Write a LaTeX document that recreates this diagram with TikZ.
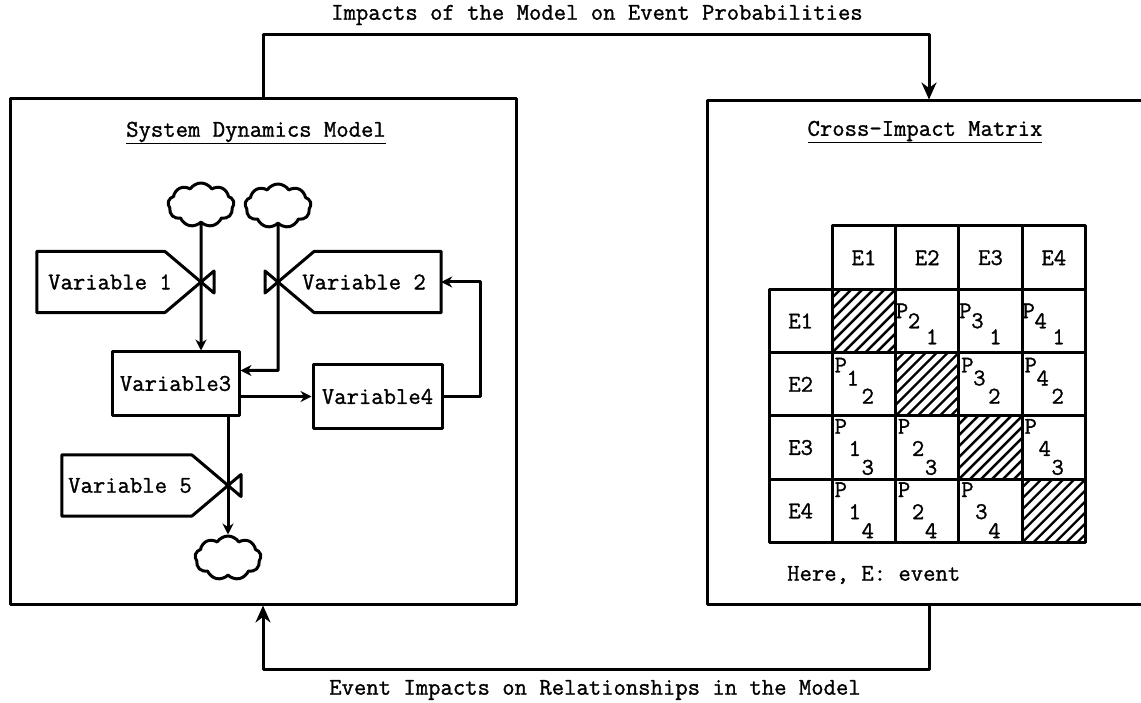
\documentclass[tikz,border=0pt]{standalone}
\usepackage{fontspec}
\setmonofont{Latin Modern Mono}[FakeBold=1.2]
\usetikzlibrary{arrows.meta,calc,shapes.symbols}

\tikzset{
  txt/.style={font=\ttfamily\fontsize{24}{28}\selectfont, inner sep=0pt},
  panel/.style={draw, line width=3pt, inner sep=0pt},
  level/.style={txt, draw, line width=3pt, minimum height=63pt},
  cloudy/.style={cloud, cloud puffs=9, cloud puff arc=115, aspect=1.5, draw, line width=3pt,
    minimum width=66pt, minimum height=44pt, inner sep=0pt},
  flow/.style={line width=3pt},
  cell/.style={txt, draw, line width=3pt, minimum size=63.3pt},
  hatch/.style={line width=2.4pt},
  bigtip/.style={-{Stealth[length=17pt,width=15pt]}}
}

\begin{document}
\begin{tikzpicture}[x=1pt,y=-1pt,line cap=round,line join=round,
    >={Stealth[length=11pt,width=11pt]}]
  \useasboundingbox (0,0) rectangle (1141,703);
  \def\cs{63.3}

  % the two panels and the loop between them
  \node[panel, minimum width=506pt, minimum height=505pt] (sdm) at (263,351.5) {};
  \node[panel, minimum width=444pt, minimum height=503pt] (cim) at (929,352.5) {};
  \node[txt] (toplbl) at (597,15) {Impacts of the Model on Event Probabilities};
  \node[txt] (botlbl) at (595,690) {Event Impacts on Relationships in the Model};
  \draw[flow,bigtip] (sdm.north) -- ++(0,-63) -| (cim.north);
  \draw[flow,bigtip] (cim.south) -- ++(0,64) -| (sdm.south);

  \node[txt] (sdmtitle) at (256,133) {\underline{System Dynamics Model}};
  \node[txt] (cimtitle) at (925,132) {\underline{Cross-Impact Matrix}};

  % system dynamics model
  \node[cloudy] (cl1) at (201,205) {};
  \node[cloudy] (cl2) at (278,206) {};
  \node[cloudy] (cl3) at (228,558) {};
  \coordinate (v1) at (201,282);
  \coordinate (v2) at (278,282);
  \coordinate (v5) at (228,485.5);

  \node[txt, minimum width=146pt, minimum height=61pt] (var1) at (110,282) {Variable 1};
  \node[txt, minimum width=154pt, minimum height=61pt] (var2) at (364,282) {Variable 2};
  \node[txt, minimum width=136pt, minimum height=61pt] (var5) at (130,485.5) {Variable 5};
  \node[level, minimum width=127pt] (var3) at (175.5,383.5) {Variable3};
  \node[level, minimum width=129pt] (var4) at (377.5,396.5) {Variable4};

  \draw[flow] (var1.north west) -- ($(v1)+(-36,-30.5)$) -- ($(v1)+(13,11)$)
    -- ($(v1)+(13,-11)$) -- ($(v1)+(-36,30.5)$) -- (var1.south west) -- cycle;
  \draw[flow] (var2.north east) -- ($(v2)+(36,-30.5)$) -- ($(v2)+(-13,11)$)
    -- ($(v2)+(-13,-11)$) -- ($(v2)+(36,30.5)$) -- (var2.south east) -- cycle;
  \draw[flow] (var5.north west) -- ($(v5)+(-36,-30.5)$) -- ($(v5)+(13,11)$)
    -- ($(v5)+(13,-11)$) -- ($(v5)+(-36,30.5)$) -- (var5.south west) -- cycle;

  \draw[flow,->] (cl1.south) -- (v1) -- (var3.north -| v1);
  \draw[flow,->] (cl2.south) -- (v2) |- ($(var3.east)+(0,-13)$);
  \draw[flow,->] (var4.west -| var3.east) -- (var4.west);
  \draw[flow,->] (var4.east) -- ++(37,0) |- (var2.east);
  \draw[flow,->] (var3.south -| v5) -- (v5) -- (cl3.north);

  % cross-impact matrix
  \coordinate (m0) at (769,226);
  \foreach \k in {1,...,4}{
    \begin{scope}
      \clip ($(m0)+({\k*\cs},{\k*\cs})$) rectangle ++(\cs,\cs);
      \foreach \s in {-66,-55,...,66}
        \draw[hatch] ($(m0)+({\k*\cs+\s},{(\k+1)*\cs})$) -- ++(70,-70);
    \end{scope}
  }
  \foreach \i in {1,...,4}{
    \node[cell] (h\i) at ($(m0)+({(\i+0.5)*\cs},{0.5*\cs})$) {E\i};
    \node[cell] (r\i) at ($(m0)+({0.5*\cs},{(\i+0.5)*\cs})$) {E\i};
  }
  \foreach \i in {1,...,4}
    \foreach \j in {1,...,4}
      \node[cell] (c\i\j) at ($(m0)+({(\i+0.5)*\cs},{(\j+0.5)*\cs})$) {};
  \foreach \j/\px/\py/\ax/\ay/\bx/\by in {1/8/23/20/33/38/49, 2/10/14/22/27/37/45,
      3/10/12/24/34/37/53, 4/10/12/24/34/37/53}{
    \foreach \i in {1,...,4}{
      \ifnum\i=\j\relax\else
        \node[txt] (p\i\j) at ($(c\i\j.north west)+(\px,\py)$) {P};
        \node[txt] (p\i\j-a) at ($(c\i\j.north west)+(\ax,\ay)$) {\i};
        \node[txt] (p\i\j-b) at ($(c\i\j.north west)+(\bx,\by)$) {\j};
      \fi
    }
  }
  \node[txt, anchor=west] (note) at (787,575) {Here, E: event};
\end{tikzpicture}
\end{document}
